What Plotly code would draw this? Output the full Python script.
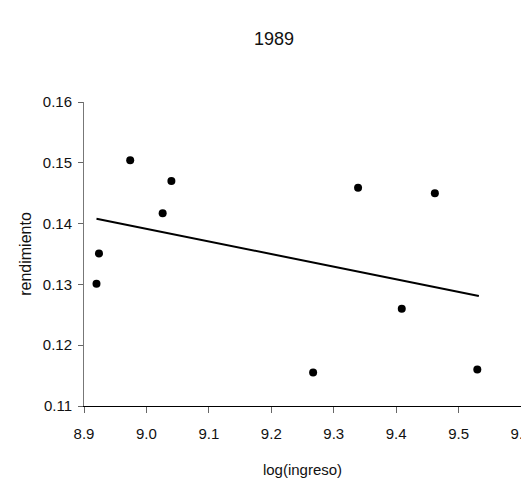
import plotly.graph_objects as go

ingreso_log = [8.920, 8.924, 8.974, 9.026, 9.040, 9.267, 9.339, 9.409, 9.462, 9.530]
rendimiento = [0.1301, 0.1351, 0.1504, 0.1417, 0.1470, 0.1155, 0.1459, 0.1260, 0.1450, 0.1160]

trend_x = [8.920, 9.5325]
trend_y = [0.1408, 0.1281]

x_ticks = [8.9, 9.0, 9.1, 9.2, 9.3, 9.4, 9.5, 9.6]
x_tick_labels = ["8.9", "9.0", "9.1", "9.2", "9.3", "9.4", "9.5", "9.6"]
y_ticks = [0.11, 0.12, 0.13, 0.14, 0.15, 0.16]
y_tick_labels = ["0.11", "0.12", "0.13", "0.14", "0.15", "0.16"]

FONT = "Liberation Sans, Arial, sans-serif"

# the page body adds an 8px offset, so the figure is 8px smaller than the window
W, H = 521, 481
ML, MR, MT, MB = 76, 8, 94, 83

fig = go.Figure()
fig.add_trace(go.Scatter(x=trend_x, y=trend_y, mode="lines",
                         line=dict(color="black", width=2), showlegend=False,
                         hoverinfo="skip"))
fig.add_trace(go.Scatter(x=ingreso_log, y=rendimiento, mode="markers",
                         marker=dict(color="black", size=8), showlegend=False))

fig.update_layout(
    width=W, height=H,
    margin=dict(l=ML, r=MR, t=MT, b=MB),
    paper_bgcolor="white", plot_bgcolor="white",
    font=dict(family=FONT, size=15, color="#111"),
    xaxis=dict(range=[8.9, 9.6], tickvals=x_ticks, ticktext=x_tick_labels,
               showgrid=False, zeroline=False, showline=True, linecolor="black",
               linewidth=1, ticks="outside", ticklen=6, tickcolor="#666",
               automargin=False, ticklabeloverflow="allow", ticklabelstandoff=8,
               tickfont=dict(family=FONT, size=15, color="#111"),
               title=dict(text="log(ingreso)", font=dict(family=FONT, size=15, color="#111"),
                          standoff=23)),
    yaxis=dict(range=[0.11, 0.16], tickvals=y_ticks, ticktext=y_tick_labels,
               showgrid=False, zeroline=False, showline=True, linecolor="#777",
               linewidth=1, ticks="outside", ticklen=5, tickcolor="#666",
               automargin=False, ticklabeloverflow="allow", ticklabelstandoff=3,
               tickfont=dict(family=FONT, size=15, color="#111"),
               title=dict(text="rendimiento", font=dict(family=FONT, size=16, color="#111"),
                          standoff=7)),
    annotations=[dict(text="1989",
                      x=(266 - ML) / (W - ML - MR),
                      y=1 + (MT - 30.5) / (H - MT - MB),
                      xref="paper", yref="paper", xanchor="center", yanchor="middle",
                      showarrow=False, font=dict(family=FONT, size=18, color="#111"))],
)

fig.write_html("out.html")
